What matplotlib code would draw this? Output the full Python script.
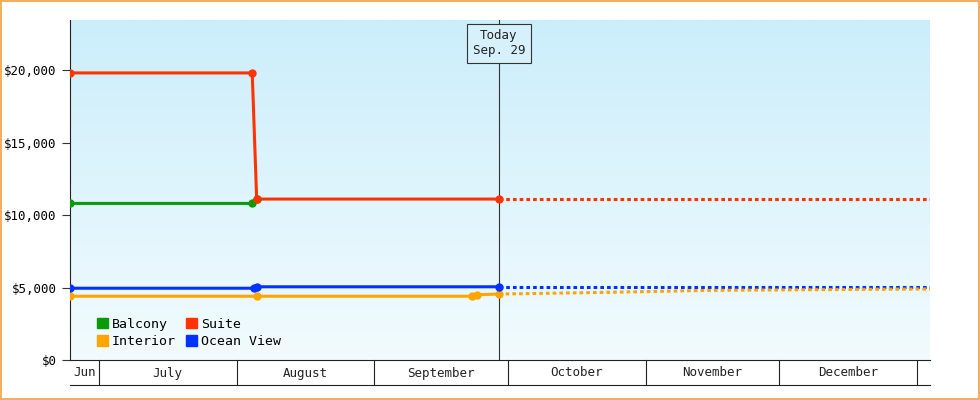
import matplotlib
matplotlib.use("Agg")
import matplotlib.pyplot as plt
import matplotlib.dates as mdates
import numpy as np
from datetime import datetime as D

plt.rcParams['font.family'] = ['DejaVu Sans Mono']

x_start, x_end = D(2024,6,24,12), D(2025,1,4)
today = D(2024,9,29)
today_label = ["Today", "Sep. 29"]

suite_dates = [D(2024,6,24,12), D(2024,8,4,12), D(2024,8,5,12), D(2024,9,29)]
suite_vals = [19800, 19800, 11100, 11100]
balcony_dates = [D(2024,6,24,12), D(2024,8,4,12), D(2024,8,5,12)]
balcony_vals = [10800, 10800, 11100]
ocean_dates = [D(2024,6,24,12), D(2024,8,5), D(2024,8,5,12), D(2024,9,29)]
ocean_vals = [4950, 4950, 5050, 5050]
interior_dates = [D(2024,6,24,12), D(2024,8,5,12), D(2024,9,23), D(2024,9,24), D(2024,9,29)]
interior_vals = [4400, 4400, 4400, 4500, 4550]
suite_fc = ([D(2024,9,29), D(2025,1,4)], [11100, 11100])
ocean_fc = ([D(2024,9,29), D(2025,1,4)], [5050, 5050])
interior_fc = ([D(2024,9,29), D(2024,10,20), D(2024,11,15), D(2024,12,10), D(2025,1,4)],
               [4550, 4650, 4800, 4850, 4900])

months = ["Jun", "July", "August", "September", "October", "November", "December", ""]
month_starts = [D(2024,6,1), D(2024,7,1), D(2024,8,1), D(2024,9,1), D(2024,10,1),
                D(2024,11,1), D(2024,12,1), D(2025,1,1), D(2025,2,1)]

green, red, orange, blue = "#0a9a0a", "#ff3300", "#ffa500", "#0033ff"

fig = plt.figure(figsize=(9.8, 4.0), dpi=100)
fig.patches.append(plt.Rectangle((0.001, 0.002), 0.998, 0.996, transform=fig.transFigure,
                                 fill=False, edgecolor="#f0a040", lw=1.2))
ax = fig.add_axes([70/980, 40/400, 860/980, 340/400])
ax.set_xlim(x_start, x_end)
ax.set_ylim(0, 23450)

grad = np.linspace(0, 1, 256).reshape(-1, 1)
from matplotlib.colors import LinearSegmentedColormap
cmap = LinearSegmentedColormap.from_list("g", ["#f2fbfe", "#cbeefb"])
ax.imshow(grad, aspect="auto", cmap=cmap, origin="lower",
          extent=[mdates.date2num(x_start), mdates.date2num(x_end), 0, 23450], zorder=0)

lw = 2.2
ax.plot(balcony_dates, balcony_vals, color=green, lw=lw, zorder=3)
ax.plot(interior_dates, interior_vals, color=orange, lw=lw, zorder=3)
ax.plot(ocean_dates, ocean_vals, color=blue, lw=lw, zorder=3)
ax.plot(suite_dates, suite_vals, color=red, lw=lw, zorder=4)
ax.plot(*suite_fc, color=red, lw=lw, ls=(0, (1.2, 1)), zorder=3)
ax.plot(*ocean_fc, color=blue, lw=lw, ls=(0, (1.2, 1)), zorder=3)
ax.plot(*interior_fc, color=orange, lw=lw, ls=(0, (1.2, 1)), zorder=3)
for d, v, c in [(balcony_dates, balcony_vals, green), (interior_dates, interior_vals, orange),
                (ocean_dates, ocean_vals, blue), (suite_dates, suite_vals, red)]:
    ax.plot(d, v, ls="none", marker="o", ms=5, color=c, zorder=5)

ax.axvline(today, color="#333333", lw=0.8, zorder=2)
ax.text(today, 21850, "\n".join(today_label), ha="center", va="center", fontsize=9,
        color="#222222", bbox=dict(boxstyle="square,pad=0.45", fc="#d6f1fc", ec="#333333", lw=0.8), zorder=6)

ax.set_yticks([0, 5000, 10000, 15000, 20000])
ax.set_yticklabels(["$0", "$5,000", "$10,000", "$15,000", "$20,000"], fontsize=9)
ax.tick_params(axis="y", length=6, width=0.8, color="#333333")
ax.set_xticks([])
for s in ["top", "right"]:
    ax.spines[s].set_visible(False)
ax.spines["left"].set_color("#222222")
ax.spines["bottom"].set_color("#222222")

x0n, x1n = mdates.date2num(x_start), mdates.date2num(x_end)
ax.plot([0, 1], [-25/340, -25/340], transform=ax.transAxes, color="#222222", lw=0.8, clip_on=False)
for i, m in enumerate(months):
    a, b = mdates.date2num(month_starts[i]), mdates.date2num(month_starts[i+1])
    if x0n < a < x1n:
        xa = (a - x0n) / (x1n - x0n)
        ax.plot([xa, xa], [0, -25/340], transform=ax.transAxes, color="#222222", lw=0.8, clip_on=False)
    lo, hi = max(a, x0n), min(b, x1n)
    if m and hi > lo:
        ax.text(((lo + hi) / 2 - x0n) / (x1n - x0n), -13/340, m, transform=ax.transAxes,
                ha="center", va="center", fontsize=9, color="#222222")

from matplotlib.patches import Patch
handles = [Patch(color=green, label="Balcony"), Patch(color=orange, label="Interior"),
           Patch(color=red, label="Suite"), Patch(color=blue, label="Ocean View")]
ax.legend(handles=handles, ncol=2, loc="lower left", bbox_to_anchor=(0.018, 0.0), frameon=False,
          fontsize=9.5, handlelength=0.8, handleheight=0.8, handletextpad=0.3, columnspacing=0.8,
          labelspacing=0.35)

fig.savefig("out.png", dpi=100)
